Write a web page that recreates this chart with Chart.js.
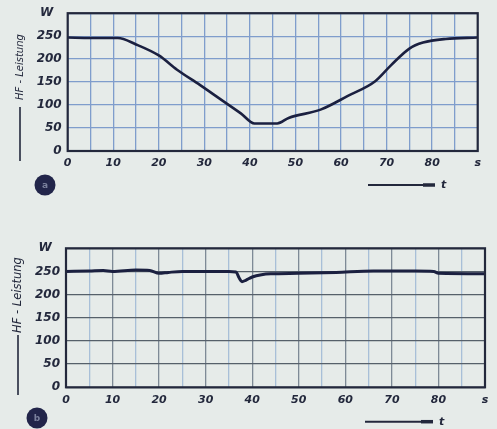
<!DOCTYPE html>
<html>
<head>
<meta charset="utf-8">
<script src="https://cdn.jsdelivr.net/npm/chart.js@4/dist/chart.umd.min.js"></script>
<style>
  body { margin: 0; background: #e6ebe9; width: 497px; height: 429px; overflow: hidden; position: relative; }
  canvas { position: absolute; left: 0; }
</style>
</head>
<body>
<canvas id="chartA" width="497" height="200" style="top:0"></canvas>
<canvas id="chartB" width="497" height="214" style="top:215px"></canvas>
<script>
// Bild a: HF-Leistung faellt ab und steigt wieder (Zeit in s, Leistung in W)
const timeA  = [0, 5, 11, 15, 20, 24, 29, 33.5, 38, 41, 46, 48.5, 55.5, 61.5, 67.5, 71, 75, 78, 83, 90];
const powerA = [247, 246, 246, 232, 208, 177, 144, 113, 82, 60, 60, 72, 90, 120, 152, 187, 223, 236, 244, 247];

// Bild b: Leistung bleibt fast konstant, kleiner Einbruch bei ~38 s
const timeB  = [0, 5, 8, 10, 15, 18, 20, 22, 25, 30, 35, 36.5, 37.2, 37.8, 38.6, 40, 42, 44, 50, 58, 66, 75, 79, 80, 90];
const powerB = [250, 251, 252, 250, 253, 252, 246, 248, 250, 250, 250, 249, 236, 228, 231, 238, 243, 245, 246, 248, 251, 251, 250, 246, 245];

const yTicks = [0, 50, 100, 150, 200, 250];
const yUnit = 'W';
const xUnit = 's';
const yTitle = 'HF - Leistung';
const xTitle = 't';

const ink = '#23283c';
const fontFam = "'DejaVu Sans', sans-serif";

// extra Deko: Rahmen, Achsentitel mit Strich, Pfeil t, Kreis mit Buchstabe
const deco = {
  id: 'deco',
  afterDraw(chart, args, o) {
    const { ctx, chartArea: a } = chart;
    ctx.save();
    ctx.strokeStyle = ink;
    ctx.lineWidth = 2.2;
    ctx.strokeRect(a.left, a.top, a.right - a.left, a.bottom - a.top);

    // senkrechter Titel
    ctx.save();
    ctx.translate(o.titleX, o.titleStart);
    ctx.rotate(-Math.PI / 2);
    ctx.fillStyle = ink;
    ctx.font = 'italic ' + o.titleSize + 'px ' + fontFam;
    ctx.textAlign = 'left';
    ctx.textBaseline = 'middle';
    ctx.fillText(yTitle, 0, 0);
    ctx.restore();
    ctx.beginPath();
    ctx.lineWidth = 1.6;
    ctx.moveTo(o.titleX, o.lineFrom);
    ctx.lineTo(o.titleX, o.lineTo);
    ctx.stroke();

    // Pfeil ---> t
    ctx.beginPath();
    ctx.lineWidth = 2;
    ctx.moveTo(o.arrowFrom, o.arrowY);
    ctx.lineTo(o.arrowTo, o.arrowY);
    ctx.stroke();
    ctx.beginPath();
    ctx.lineWidth = 3.5;
    ctx.moveTo(o.arrowTo - 12, o.arrowY);
    ctx.lineTo(o.arrowTo, o.arrowY);
    ctx.stroke();
    ctx.fillStyle = ink;
    ctx.font = 'italic bold 11px ' + fontFam;
    ctx.textAlign = 'left';
    ctx.textBaseline = 'middle';
    ctx.fillText(xTitle, o.arrowTo + 6, o.arrowY);

    // Kreis mit Buchstabe
    ctx.beginPath();
    ctx.fillStyle = '#22254a';
    ctx.arc(o.circleX, o.circleY, 10.5, 0, Math.PI * 2);
    ctx.fill();
    ctx.fillStyle = '#7a809c';
    ctx.font = 'bold 9px ' + fontFam;
    ctx.textAlign = 'center';
    ctx.fillText(o.letter, o.circleX, o.circleY + 1);
    ctx.restore();
  }
};

function makeChart(id, xs, ys, cfg) {
  const ctx = document.getElementById(id).getContext('2d');
  return new Chart(ctx, {
    type: 'line',
    data: {
      datasets: [{
        data: xs.map((x, i) => ({ x: x, y: ys[i] })),
        borderColor: '#1b2040',
        borderWidth: cfg.lineWidth,
        pointRadius: 0,
        cubicInterpolationMode: 'monotone',
        fill: false
      }]
    },
    options: {
      responsive: false,
      animation: false,
      layout: { padding: cfg.padding },
      plugins: { legend: { display: false }, tooltip: { enabled: false }, deco: cfg.deco },
      scales: {
        x: {
          type: 'linear',
          min: 0,
          max: 90,
          afterFit: s => { s.height = 22; },
          ticks: {
            stepSize: 5,
            autoSkip: false,
            maxRotation: 0,
            padding: 6,
            color: ink,
            font: { family: fontFam, size: 11, style: 'italic', weight: 'bold' },
            callback: v => v === 90 ? xUnit : (v % 10 === 0 ? v : '')
          },
          grid: { color: cfg.vGrid, lineWidth: 1.3, drawTicks: false },
          border: { display: false }
        },
        y: {
          min: 0,
          max: 300,
          afterFit: s => { s.width = cfg.yWidth; },
          afterBuildTicks: s => { s.ticks = yTicks.concat([300]).map(v => ({ value: v })); },
          ticks: {
            padding: 6,
            color: ink,
            font: { family: fontFam, size: 12, style: 'italic', weight: 'bold' },
            callback: v => v === 300 ? yUnit + '  ' : v
          },
          grid: { color: cfg.hGrid, lineWidth: 1.3, drawTicks: false },
          border: { display: false }
        }
      }
    },
    plugins: [deco]
  });
}

makeChart('chartA', timeA, powerA, {
  lineWidth: 2.6,
  yWidth: 67.7,
  padding: { left: 0, top: 13, right: 19.3, bottom: 27 },
  vGrid: '#7f9dcc',
  hGrid: '#7f9dcc',
  deco: { titleX: 20, titleStart: 100, titleSize: 10, lineFrom: 107, lineTo: 161,
          arrowFrom: 368, arrowTo: 435, arrowY: 185, circleX: 45, circleY: 185, letter: 'a' }
});

makeChart('chartB', timeB, powerB, {
  lineWidth: 3,
  yWidth: 66,
  padding: { left: 0, top: 33.3, right: 12, bottom: 19.7 },
  vGrid: c => (c.tick && c.tick.value % 10 === 0) ? '#7e8a96' : '#a8bfd8',
  hGrid: '#56606a',
  deco: { titleX: 18, titleStart: 118, titleSize: 11.5, lineFrom: 120, lineTo: 180,
          arrowFrom: 365, arrowTo: 433, arrowY: 206.7, circleX: 37, circleY: 203, letter: 'b' }
});
</script>
</body>
</html>
